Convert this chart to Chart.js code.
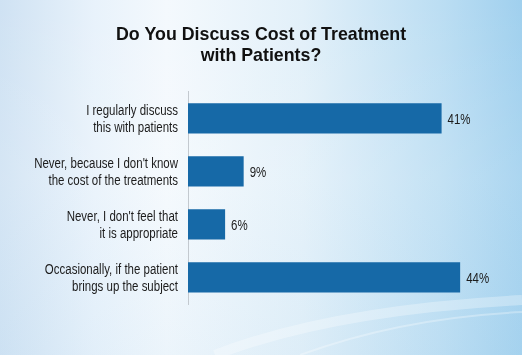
<!DOCTYPE html>
<html>
<head>
<meta charset="utf-8">
<script src="https://cdn.jsdelivr.net/npm/chart.js@4"></script>
<style>
  html, body { margin: 0; padding: 0; }
  body {
    width: 522px; height: 355px; overflow: hidden; position: relative;
    background: linear-gradient(to right, #cfe2f3 0%, #e8f2fb 18%, #f4f9fd 32%, #e2f0f9 58%, #bcdef3 84%, #a0d0ee 100%);
  }
  #bg {
    position: absolute; left: 0; top: 0; width: 522px; height: 355px;
    background: linear-gradient(to bottom, rgba(255,255,255,0) 0%, rgba(255,255,255,0.12) 50%, rgba(190,220,240,0.15) 100%);
  }
  #wrap { position: absolute; left: 0; top: 0; width: 522px; height: 355px; }
</style>
</head>
<body>
<div id="bg">
  <svg width="522" height="355" style="position:absolute;left:0;top:0">
    <path d="M215 355 Q 330 310 522 300" stroke="rgba(255,255,255,0.3)" stroke-width="10" fill="none"/>
    <path d="M300 355 Q 400 318 522 312" stroke="rgba(255,255,255,0.3)" stroke-width="2" fill="none"/>
  </svg>
</div>
<div id="wrap"><canvas id="c" width="522" height="355"></canvas></div>
<script>
const categories = [
  ["I regularly discuss", "this with patients"],
  ["Never, because I don't know", "the cost of the treatments"],
  ["Never, I don't feel that", "it is appropriate"],
  ["Occasionally, if the patient", "brings up the subject"]
];
const values = [41, 9, 6, 44];
const valueLabels = ["41%", "9%", "6%", "44%"];
const titleLines = ["Do You Discuss Cost of Treatment", "with Patients?"];

const wide = "'Liberation Sans', Arial, sans-serif";
const NARROW = 0.82;   // horizontal squeeze to mimic a narrow face
const textColor = "#1c1c1c";

// Draws the category labels (condensed) at the positions of the y scale ticks,
// and the value labels at the ends of the bars.
const labelPlugin = {
  id: 'narrowLabels',
  afterDraw(chart) {
    const ctx = chart.ctx;
    const yScale = chart.scales.y;
    const meta = chart.getDatasetMeta(0);
    ctx.save();
    ctx.font = "14px " + wide;
    ctx.fillStyle = textColor;
    ctx.textBaseline = "middle";
    const lineH = 17;
    yScale.ticks.forEach((t, i) => {
      const lines = chart.data.labels[i];
      const cy = yScale.getPixelForTick(i) + 1;
      const x = yScale.right - 10;
      lines.forEach((ln, k) => {
        const dy = (k - (lines.length - 1) / 2) * lineH;
        ctx.save();
        ctx.translate(x, cy + dy);
        ctx.scale(NARROW, 1);
        ctx.textAlign = "right";
        ctx.fillText(ln, 0, 0);
        ctx.restore();
      });
    });
    meta.data.forEach((bar, i) => {
      ctx.save();
      ctx.translate(bar.x + 6, bar.y + 1.5);
      ctx.scale(NARROW, 1);
      ctx.textAlign = "left";
      ctx.fillText(valueLabels[i], 0, 0);
      ctx.restore();
    });
    ctx.restore();
  }
};

new Chart(document.getElementById('c'), {
  type: 'bar',
  data: {
    labels: categories,
    datasets: [{
      data: values,
      backgroundColor: '#1669a7',
      borderWidth: 0,
      categoryPercentage: 1,
      barPercentage: 0.57
    }]
  },
  options: {
    indexAxis: 'y',
    responsive: false,
    animation: false,
    devicePixelRatio: 1,
    layout: { padding: { top: 0, right: 0, bottom: 51, left: 0 } },
    plugins: {
      legend: { display: false },
      tooltip: { enabled: false },
      title: {
        display: true,
        text: titleLines,
        color: '#111',
        font: { family: wide, size: 17.8, weight: 'bold', lineHeight: 1.2 },
        padding: { top: 24, bottom: 25 }
      }
    },
    scales: {
      x: {
        display: false,
        min: 0,
        max: 54
      },
      y: {
        grid: { display: false, drawTicks: false },
        border: { display: true, color: '#c3c9cf', width: 1 },
        ticks: { display: false },
        afterFit(scale) { scale.width = 188; }
      }
    }
  },
  plugins: [labelPlugin]
});
</script>
</body>
</html>
